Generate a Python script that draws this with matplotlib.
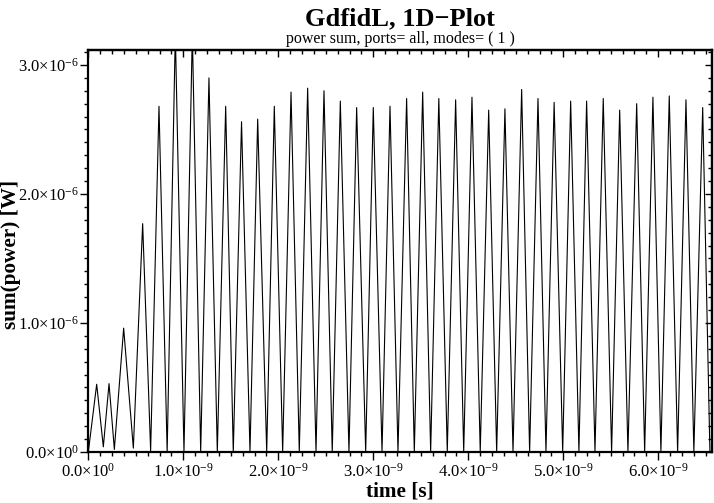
import numpy as np
import matplotlib
matplotlib.use('Agg')
import matplotlib.pyplot as plt
from matplotlib import ticker

# power sum vs time: troughs and peaks (ns, microwatt)
trough_ns = [0.000, 0.158, 0.274, 0.474, 0.656, 0.830, 1.007, 1.183, 1.358, 1.526,
             1.702, 1.878, 2.046, 2.221, 2.397, 2.568, 2.744, 2.920, 3.092, 3.260,
             3.432, 3.604, 3.779, 3.952, 4.126, 4.299, 4.471, 4.646, 4.818, 4.994,
             5.165, 5.334, 5.509, 5.681, 5.857, 6.028, 6.204, 6.375, 6.544]
trough_uw = [0.00, 0.04, 0.02, 0.03, 0.01, 0.00, 0.00, 0.00, 0.00, 0.00,
             0.00, 0.00, 0.00, 0.00, 0.00, 0.00, 0.00, 0.00, 0.00, 0.00,
             0.00, 0.00, 0.00, 0.00, 0.00, 0.00, 0.00, 0.00, 0.00, 0.00,
             0.00, 0.00, 0.00, 0.00, 0.00, 0.00, 0.00, 0.00, 0.00]
peak_ns = [0.088, 0.218, 0.372, 0.572, 0.744, 0.916, 1.095, 1.270, 1.446, 1.613,
           1.783, 1.958, 2.134, 2.309, 2.481, 2.653, 2.825, 3.000, 3.176, 3.351,
           3.520, 3.690, 3.867, 4.039, 4.215, 4.386, 4.562, 4.734, 4.904, 5.078,
           5.246, 5.421, 5.594, 5.773, 5.944, 6.116, 6.292, 6.468]
peak_uw = [0.525, 0.53, 0.96, 1.77, 2.68, 3.25, 3.25, 2.90, 2.68, 2.56,
           2.58, 2.68, 2.79, 2.82, 2.80, 2.72, 2.67, 2.67, 2.68, 2.74,
           2.79, 2.74, 2.73, 2.75, 2.65, 2.66, 2.81, 2.74, 2.71, 2.72,
           2.72, 2.74, 2.65, 2.70, 2.75, 2.76, 2.73, 2.67]

xmajor = [0, 1e-9, 2e-9, 3e-9, 4e-9, 5e-9, 6e-9]
ymajor = [0, 1e-6, 2e-6, 3e-6]

plt.rcParams['font.family'] = ['Liberation Serif', 'DejaVu Serif']
plt.rcParams['mathtext.fontset'] = 'custom'
plt.rcParams['mathtext.rm'] = 'Liberation Serif'
plt.rcParams['mathtext.it'] = 'Liberation Serif:italic'
plt.rcParams['mathtext.bf'] = 'Liberation Serif:bold'

# alternate trough, peak, trough, ...
n = len(trough_ns) + len(peak_ns)
t = np.empty(n)
p = np.empty(n)
t[0::2] = trough_ns
t[1::2] = peak_ns
p[0::2] = trough_uw
p[1::2] = peak_uw
t = t * 1e-9
p = p * 1e-6

xmax = 6.563e-9
ymax = 3.116e-6
xminor = [i * 0.125e-9 for i in range(int(xmax / 0.125e-9) + 1)]
yminor = [i * 0.1e-6 for i in range(int(ymax / 0.1e-6) + 1)]


def sciLabel(v, pos):
    if abs(v) < 1e-30:
        return r'$0.0{\times}10^{0}$'
    e = int(np.floor(np.log10(abs(v)) + 1e-9))
    return r'$%.1f{\times}10^{%d}$' % (v / 10**e, e)


fig = plt.figure(figsize=(7.14, 5.03), dpi=100)
ax = fig.add_axes((0.1237, 0.1014, 0.8731, 0.7992))
ax.plot(t, p, color='black', lw=0.8)

ax.set_xlim(0, xmax)
ax.set_ylim(0, ymax)

ax.xaxis.set_major_locator(ticker.FixedLocator(xmajor))
ax.xaxis.set_minor_locator(ticker.FixedLocator(xminor))
ax.yaxis.set_major_locator(ticker.FixedLocator(ymajor))
ax.yaxis.set_minor_locator(ticker.FixedLocator(yminor))
ax.xaxis.set_major_formatter(ticker.FuncFormatter(sciLabel))
ax.yaxis.set_major_formatter(ticker.FuncFormatter(sciLabel))
ax.tick_params(which='major', direction='out', length=6, width=1, labelsize=12)
ax.tick_params(axis='y', which='major', pad=0.5)
ax.tick_params(axis='x', which='major', pad=2)
ax.tick_params(which='minor', direction='out', length=3, width=1)
for s in ax.spines.values():
    s.set_linewidth(1.6)

# top and right ticks point inward
top = ax.secondary_xaxis('top')
right = ax.secondary_yaxis('right')
top.xaxis.set_major_locator(ticker.FixedLocator(xmajor))
top.xaxis.set_minor_locator(ticker.FixedLocator(xminor))
right.yaxis.set_major_locator(ticker.FixedLocator(ymajor))
right.yaxis.set_minor_locator(ticker.FixedLocator(yminor))
for a in [top, right]:
    a.tick_params(which='major', direction='in', length=5, width=1, labelleft=False,
                  labelright=False, labeltop=False, labelbottom=False)
    a.tick_params(which='minor', direction='in', length=3, width=1)
    for s in a.spines.values():
        s.set_linewidth(1.6)

cx = 0.1237 + 0.8731 / 2
fig.text(cx, 0.950, 'GdfidL, 1D\u2212Plot', ha='center', va='baseline',
         fontsize=19, fontweight='bold')
fig.text(cx, 0.914, 'power sum, ports= all, modes= ( 1 )', ha='center',
         va='baseline', fontsize=11.5)
fig.text(cx, 0.012, 'time [s]', ha='center', va='baseline', fontsize=15.3, fontweight='bold')
fig.text(0.015, 0.495, 'sum(power) [W]', ha='center', va='center', rotation=90,
         fontsize=15.3, fontweight='bold')

fig.savefig('out.png', dpi=100)
